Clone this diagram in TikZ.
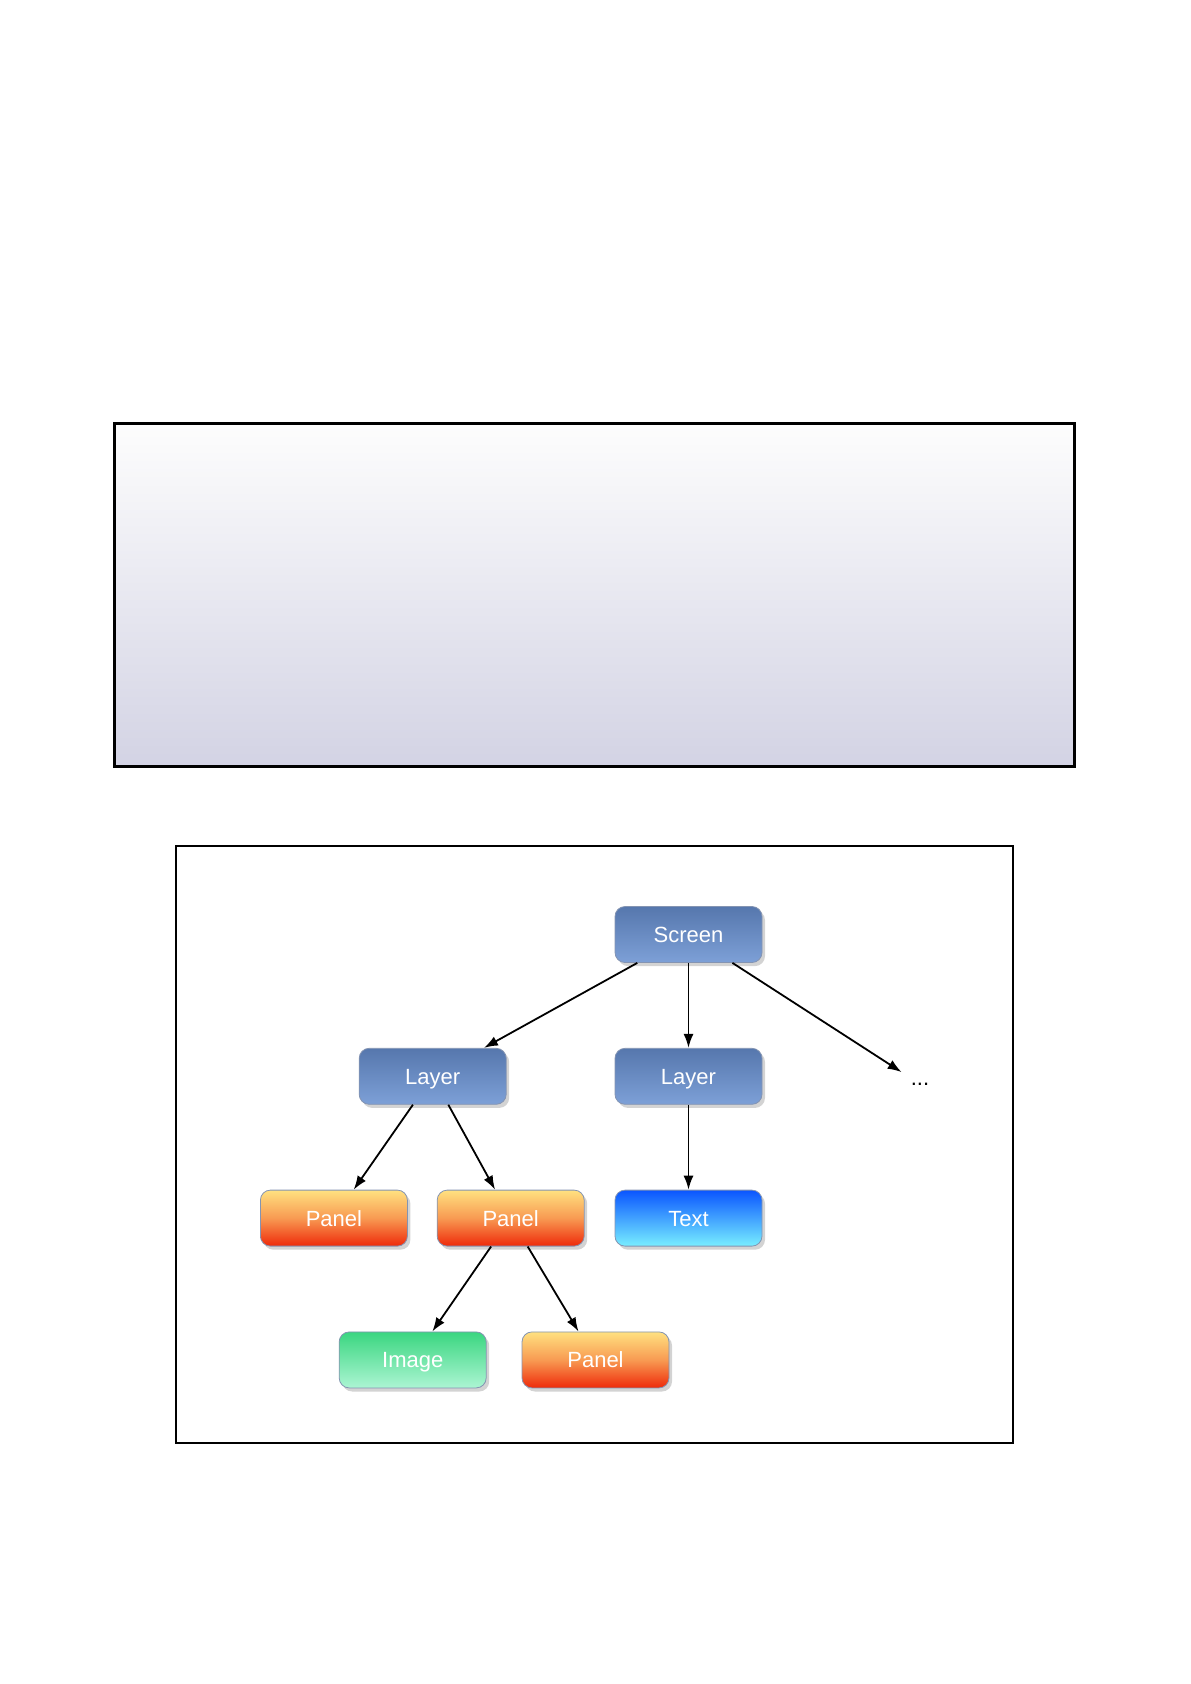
\documentclass[tikz,border=0pt]{standalone}
\usepackage{fontspec}
\setmainfont{Liberation Sans}
\usetikzlibrary{arrows.meta,positioning,shadows}
\definecolor{boxline}{HTML}{8494B2}
\definecolor{slatetop}{HTML}{5677AD}
\definecolor{slatebot}{HTML}{7DA0D7}
\definecolor{paneltop}{HTML}{FFE180}
\definecolor{panelmid}{HTML}{F89A52}
\definecolor{panelbot}{HTML}{EE2A0A}
\definecolor{texttop}{HTML}{0A55FF}
\definecolor{textbot}{HTML}{78EEFF}
\definecolor{imagetop}{HTML}{3AD680}
\definecolor{imagebot}{HTML}{ACF5D3}
\definecolor{areatop}{HTML}{FDFDFD}
\definecolor{areabot}{HTML}{D3D3E4}

\begin{document}
\begin{tikzpicture}[x=0.5pt,y=-0.5pt,>={Latex[length=7pt,width=5pt]},node distance=42.5pt and 15pt]
  \tikzstyle{block}=[draw=boxline,rounded corners=5pt,minimum width=73.5pt,minimum height=28pt,text height=8pt,text depth=0pt,text=white,font=\fontsize{11}{13}\selectfont,drop shadow={opacity=0.35,shadow xshift=1.5pt,shadow yshift=-1.8pt}]
  \tikzstyle{slate}=[block,top color=slatetop,bottom color=slatebot]
  \tikzstyle{panel}=[block,top color=paneltop,bottom color=panelbot,middle color=panelmid]
  \tikzstyle{textbox}=[block,top color=texttop,bottom color=textbot]
  \tikzstyle{imagebox}=[block,top color=imagetop,bottom color=imagebot]
  \useasboundingbox (0,0) rectangle (1190,1684);
  % upper area and frame of the tree
  \shade[draw=black,line width=1.5pt,top color=areatop,bottom color=areabot] (114,424) rectangle (1074,766);
  \draw[line width=1pt] (176,846) rectangle (1013,1443);
  % tree
  \node[slate] (screen) at (688.5,934.5) {Screen};
  \node[slate,below=of screen] (layerB) {Layer};
  \node[slate,left=54pt of layerB] (layerA) {Layer};
  \node[textbox,below=of layerB] (text) {Text};
  \node[panel,left=of text] (panelB) {Panel};
  \node[panel,left=14.5pt of panelB] (panelA) {Panel};
  \node[imagebox,below=of panelB,xshift=-49pt] (image) {Image};
  \node[panel,right=17.5pt of image] (panelC) {Panel};
  \node[minimum width=18pt,minimum height=12pt,inner sep=0pt,font=\fontsize{11}{13}\selectfont] (more) at (920,1084) {...};
  \draw[->,line width=0.9pt] (screen) -- (layerA);
  \draw[->,line width=0.9pt] (screen) -- (layerB);
  \draw[->,line width=0.9pt] (screen) -- (more);
  \draw[->,line width=0.9pt] (layerA) -- (panelA);
  \draw[->,line width=0.9pt] (layerA) -- (panelB);
  \draw[->,line width=0.9pt] (layerB) -- (text);
  \draw[->,line width=0.9pt] (panelB) -- (image);
  \draw[->,line width=0.9pt] (panelB) -- (panelC);
\end{tikzpicture}
\end{document}
